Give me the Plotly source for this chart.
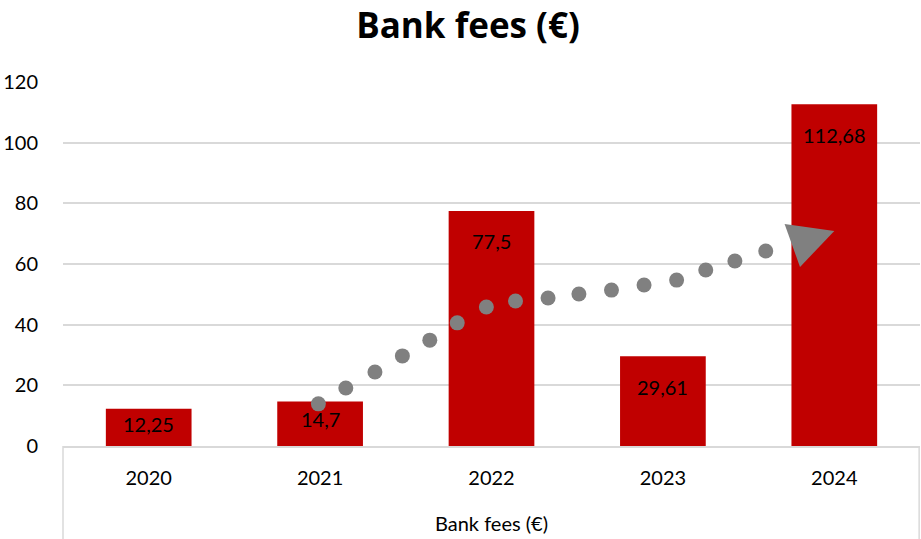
import plotly.graph_objects as go

years = ["2020", "2021", "2022", "2023", "2024"]
fees = [12.25, 14.7, 77.5, 29.61, 112.68]
fee_labels = ["12,25", "14,7", "77,5", "29,61", "112,68"]

# decorative dotted trend arrow (in data coordinates: category index, value)
trend_x = [0.99, 1.15, 1.32, 1.48, 1.64, 1.80, 1.97, 2.14, 2.33, 2.51, 2.70, 2.89, 3.08, 3.25, 3.42, 3.60]
trend_y = [13.9, 19.1, 24.4, 29.7, 34.9, 40.6, 45.8, 47.8, 48.8, 50.1, 51.4, 53.1, 54.7, 58.0, 61.0, 64.3]
head_x = [3.71, 4.0, 3.80, 3.71]
head_y = [73.2, 70.9, 59.0, 73.2]

FONT = "Lato"
RED = "#C00000"
GRID = "#D9D9D9"

xs = list(range(len(years)))

fig = go.Figure()
fig.add_trace(go.Bar(x=xs, y=fees, width=0.5, marker=dict(color=RED, line=dict(width=0)),
                     hoverinfo="skip", showlegend=False))
fig.add_trace(go.Scatter(x=trend_x, y=trend_y, mode="markers",
                         marker=dict(size=15, color="#808080"), showlegend=False, hoverinfo="skip"))
fig.add_trace(go.Scatter(x=head_x, y=head_y, mode="lines", fill="toself", fillcolor="#808080",
                         line=dict(width=0, color="#808080"), showlegend=False, hoverinfo="skip"))

for x, v, t in zip(xs, fees, fee_labels):
    ly = v - 10 if v > 25 else v * 0.6
    fig.add_annotation(x=x, y=ly, text=t, showarrow=False, xref="x", yref="y",
                       font=dict(family=FONT, size=20, color="#000000"))

# multi-level category frame lines
for xp in [0, 0.999]:
    fig.add_shape(type="line", xref="paper", yref="paper", x0=xp, x1=xp, y0=0, y1=-0.3,
                  line=dict(color=GRID, width=1.5))

fig.add_annotation(text="Bank fees (€)", xref="paper", yref="paper", x=0.5, y=0, yshift=-77,
                   showarrow=False, font=dict(family=FONT, size=20, color="#000000"), yanchor="middle")

fig.update_layout(
    width=921, height=539,
    margin=dict(l=63, r=1, t=82, b=93, autoexpand=False),
    paper_bgcolor="white", plot_bgcolor="white",
    title=dict(text="<b>Bank fees (€)</b>", x=468/921, xanchor="center", y=1 - 26/539, yanchor="middle",
               font=dict(family="Open Sans", size=35, color="#000000")),
    font=dict(family=FONT, size=20, color="#000000"),
    xaxis=dict(range=[-0.5, 4.5], tickvals=xs, ticktext=years, showgrid=False, zeroline=False,
               showline=True, linecolor=GRID, linewidth=1.5, ticks="outside", ticklen=13,
               tickcolor="rgba(0,0,0,0)", tickfont=dict(family=FONT, size=20, color="#000000"),
               fixedrange=True, automargin=False),
    yaxis=dict(range=[0, 120], dtick=20, showgrid=True, gridcolor=GRID, gridwidth=1.5,
               zeroline=False, showline=False, ticks="outside", ticklen=20,
               tickcolor="rgba(0,0,0,0)", tickfont=dict(family=FONT, size=20, color="#000000"),
               fixedrange=True, automargin=False),
    showlegend=False,
)

fig.write_html("out.html", config={"displayModeBar": False},
               post_script="document.body.style.margin='0';document.body.style.overflow='hidden';")
